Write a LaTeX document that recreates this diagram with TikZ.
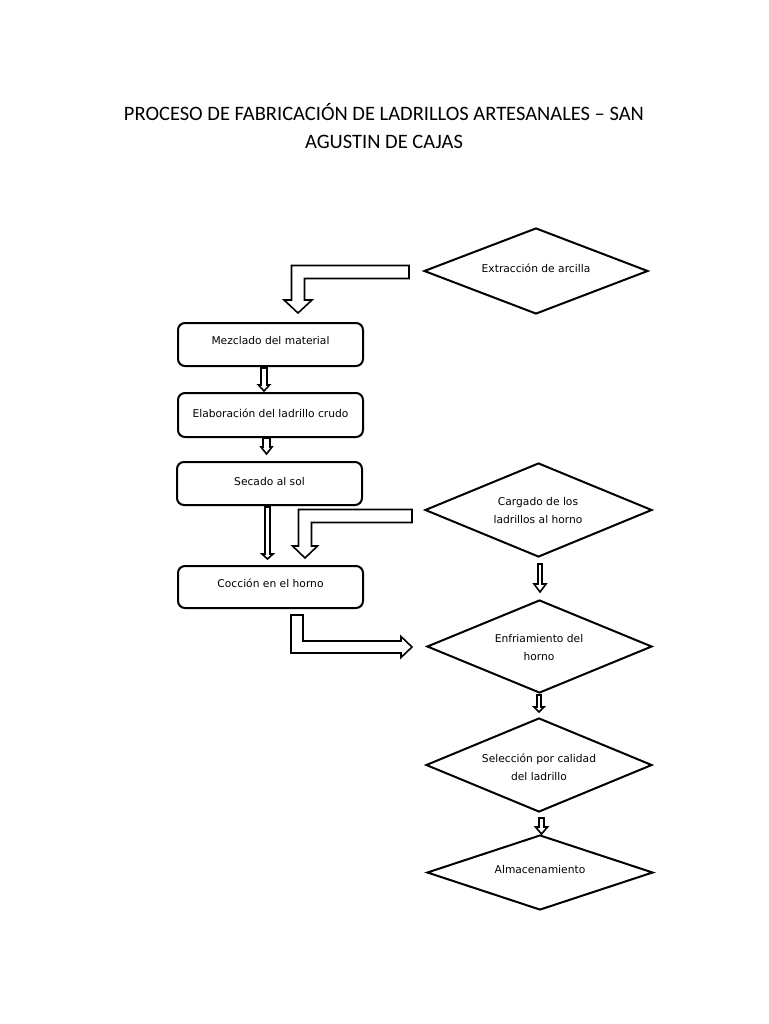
\documentclass[tikz,border=0pt]{standalone}
\usepackage{fontspec}
\setmainfont{Carlito}
\newfontfamily\lblfont{DejaVu Sans}
\usetikzlibrary{shapes.geometric,calc}
\newcommand\vblock[5]{%
  \draw[barrow] let \p1=#1, \p2=#2 in
    (\x1-#3,\y1) -- (\x1+#3,\y1) -- (\x1+#3,\y2+#5) -- (\x1+#4,\y2+#5) -- (\x1,\y2)
    -- (\x1-#4,\y2+#5) -- (\x1-#3,\y2+#5) -- cycle;}
% left then down
\newcommand\ldblock[5]{%
  \draw[barrow] let \p1=#1, \p2=#2 in
    (\x1,\y1+#3) -- (\x2-#3,\y1+#3) -- (\x2-#3,\y2+#5) -- (\x2-#4,\y2+#5) -- (\x2,\y2)
    -- (\x2+#4,\y2+#5) -- (\x2+#3,\y2+#5) -- (\x2+#3,\y1-#3) -- (\x1,\y1-#3) -- cycle;}
% down then right
\newcommand\drblock[5]{%
  \draw[barrow] let \p1=#1, \p2=#2 in
    (\x1-#3,\y1) -- (\x1+#3,\y1) -- (\x1+#3,\y2+#3) -- (\x2-#5,\y2+#3) -- (\x2-#5,\y2+#4)
    -- (\x2,\y2) -- (\x2-#5,\y2-#4) -- (\x2-#5,\y2-#3) -- (\x1-#3,\y2-#3) -- cycle;}
\begin{document}
\begin{tikzpicture}[x=1pt,y=-1pt,
  box/.style={draw, line width=2pt, rounded corners=7pt, minimum width=185pt, inner sep=0pt},
  dia/.style={draw, diamond, line width=2pt, inner sep=0pt},
  lbl/.style={font=\lblfont\fontsize{10.7}{18}\selectfont, align=center, inner sep=0pt},
  barrow/.style={draw, line width=1.6pt, fill=white, line join=miter}]
\useasboundingbox (0,0) rectangle (768,1024);
\node[font=\fontsize{20.5}{28}\selectfont, align=center] (title) at (384,126)
  {PROCESO DE FABRICACIÓN DE LADRILLOS ARTESANALES – SAN\\AGUSTIN DE CAJAS};

% diamonds
\node[dia, minimum width=224pt, minimum height=86pt] (ext) at (536,271) {};
\node[dia, minimum width=227pt, minimum height=94pt] (car) at (538.5,510) {};
\node[dia, minimum width=225pt, minimum height=93pt] (enf) at (539.5,646.5) {};
\node[dia, minimum width=226pt, minimum height=94pt] (sel) at (539,765) {};
\node[dia, minimum width=226pt, minimum height=75pt] (alm) at (540,872.5) {};
\node[lbl] (extT) at (536,268) {Extracción de arcilla};
\node[lbl] (carT) at (538,511) {Cargado de los\\ladrillos al horno};
\node[lbl] (enfT) at (539,648) {Enfriamiento del\\horno};
\node[lbl] (selT) at (539,767) {Selección por calidad\\del ladrillo};
\node[lbl] (almT) at (540,870) {Almacenamiento};

% boxes
\node[box, minimum height=43pt] (mez) at (270.5,344.5) {};
\node[box, minimum height=44pt] (ela) at (270.5,415) {};
\node[box, minimum height=43pt] (sec) at (269.5,483.5) {};
\node[box, minimum height=42pt] (coc) at (270.5,587) {};
\node[lbl] (mezT) at (270.5,341) {Mezclado del material};
\node[lbl] (elaT) at (270.5,413) {Elaboración del ladrillo crudo};
\node[lbl] (secT) at (269.5,482) {Secado al sol};
\node[lbl] (cocT) at (270.5,583) {Cocción en el horno};

% block arrows
\ldblock{($(ext.west)+(-14,1)$)}{($(mez.north)+(27.5,-9)$)}{6.5}{14}{13}
\vblock{($(mez.south)+(-6.5,1)$)}{($(ela.north)+(-6.5,-1)$)}{3}{5.5}{6}
\vblock{($(ela.south)+(-4,0)$)}{($(sec.north)+(-3,-7)$)}{3.5}{5.5}{7}
\vblock{($(sec.south)+(-2,1)$)}{($(coc.north)+(-3,-6)$)}{2.5}{5.5}{5}
\ldblock{($(car.west)+(-12,6)$)}{($(coc.north)+(34.5,-7)$)}{6.5}{12.5}{12}
\vblock{($(car.south)+(1.5,6)$)}{($(enf.north)+(0.5,-7)$)}{2}{6}{8}
\drblock{($(coc.south)+(26.5,6)$)}{($(enf.west)+(-14,0.5)$)}{6}{10.5}{11}
\vblock{($(enf.south)+(-0.5,1)$)}{($(sel.north)+(0,-5)$)}{2}{5}{5}
\vblock{($(sel.south)+(2.5,5)$)}{($(alm.north)+(1.5,0)$)}{2.5}{6}{7}
\end{tikzpicture}
\end{document}
